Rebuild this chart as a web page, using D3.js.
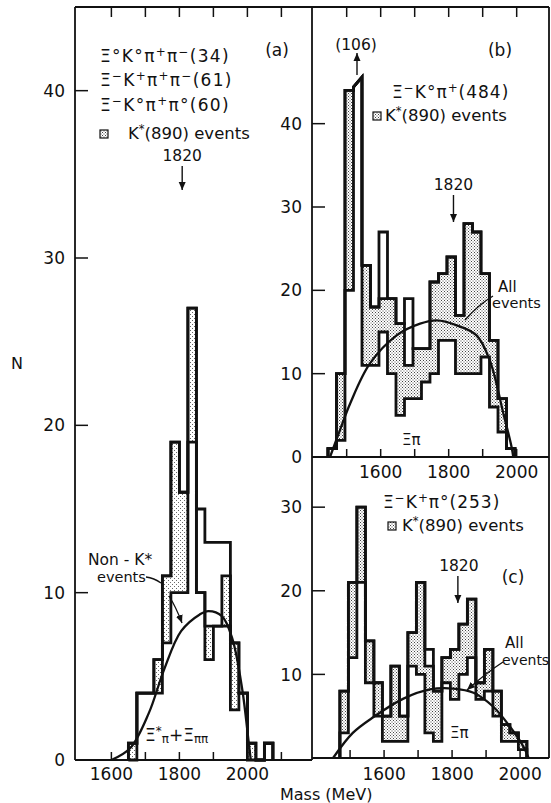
<!DOCTYPE html>
<html>
<head>
<meta charset="utf-8">
<script src="https://cdn.jsdelivr.net/npm/d3@7"></script>
<style>
  body { margin: 0; background: #fff; }
  text { font-family: "DejaVu Sans", sans-serif; fill: #111; }
</style>
</head>
<body>
<div id="chart"></div>
<script>
const width = 551, height = 803

// all histograms use 25 MeV bins
const binW = 25

// (a) Xi K pi pi, first bin starts at 1650 MeV
// nonK = inner outline, kStar = dotted K*(890) part stacked on it, all = outer outline
const aStart = 1650
const aAll   = [1, 4, 4, 6, 11, 19, 16, 27, 15, 13, 13, 13, 7, 4, 1, 0, 1]
const aNonK  = [0, 4, 4, 4, 7, 10, 10, 19, 10, 6, 8, 8, 3, 4, 0, 0, 1]
const aKStar = [1, 0, 0, 2, 4, 9, 6, 8, 0, 2, 0, 3, 4, 0, 1, 0, 0]

// (b) Xi- K0 pi+
const bStart = 1445
const bAll   = [1, 10, 44, 106, 23, 18, 27, 19, 16, 19, 13, 13, 21, 22, 24, 17, 28, 27, 22, 14, 7, 1]
const bNonK  = [1, 2, 20, 106, 11, 11, 15, 10, 5, 7, 7, 9, 10, 14, 14, 10, 10, 10, 12, 6, 3, 1]
const bKStar = [0, 8, 24, 0, 12, 7, 4, 9, 11, 4, 6, 4, 11, 8, 10, 7, 18, 17, 10, 8, 4, 0]

// (c) Xi- K+ pi0
const cStart = 1470
const cAll   = [8, 21, 30, 14, 9, 5, 11, 5, 15, 21, 13, 8, 12, 13, 16, 19, 9, 13, 8, 4, 3, 2]
const cNonK  = [3, 12, 21, 9, 5, 2, 2, 2, 11, 10, 3, 2, 9, 7, 10, 12, 7, 8, 5, 2, 2, 1]
const cKStar = [5, 9, 9, 5, 4, 3, 9, 3, 4, 11, 8, 6, 3, 6, 6, 7, 2, 5, 3, 2, 1, 1]

// phase space curves (mass, N)
const aCurve = [[1600, 0], [1655, 0.7], [1710, 2.8], [1755, 5.4], [1805, 7.7], [1860, 8.7], [1885, 8.9],
                [1925, 8.6], [1955, 7.3], [1985, 4.2], [2003, 1.2], [2010, 0]]
const bCurve = [[1451, 0], [1480, 3.2], [1510, 6.4], [1568, 11.2], [1647, 14.6], [1716, 16.0], [1765, 16.4],
                [1824, 15.8], [1882, 14.6], [1921, 11.6], [1961, 5.2], [1985, 1.2], [1990, 0]]
const cCurve = [[1450, 0], [1508, 3.0], [1569, 4.9], [1657, 7.1], [1735, 8.2], [1804, 8.3], [1863, 7.8],
                [1922, 6.1], [1971, 3.7], [2010, 1.35], [2025, 0]]

const yTicksA = [0, 10, 20, 30, 40]
const yTicksB = [0, 10, 20, 30, 40]
const yTicksC = [10, 20, 30]
const massTicksA = [1600, 1700, 1800, 1900, 2000, 2100]
const massTicksBC = [1500, 1600, 1700, 1800, 1900, 2000]
const massLabels = [1600, 1800, 2000]
const resonance = 1820
const bOverflow = 106
const bCap = 45

const xA = d3.scaleLinear([1493, 2190], [75, 312])
const yA = d3.scaleLinear([0, 45], [760, 7])
const xB = d3.scaleLinear([1398, 2098], [312, 550])
const yB = d3.scaleLinear([0, 54], [457, 7])
const xC = d3.scaleLinear([1388, 2088], [312, 550])
const yC = d3.scaleLinear([0, 36], [758, 457])

const svg = d3.select("#chart").append("svg")
    .attr("width", width)
    .attr("height", height)
    .attr("viewBox", [0, 0, width, height])

const defs = svg.append("defs")
function dots(id, size, dark) {
  const p = defs.append("pattern")
      .attr("id", id)
      .attr("width", size).attr("height", size)
      .attr("patternUnits", "userSpaceOnUse")
  p.append("rect").attr("width", size).attr("height", size).attr("fill", "#fff")
  p.append("rect").attr("width", 1).attr("height", 1).attr("fill", dark)
  p.append("rect").attr("x", size / 2).attr("y", size / 2).attr("width", 1).attr("height", 1).attr("fill", dark)
}
dots("dots", 3, "#444")
dots("dotsLight", 4, "#666")

defs.append("marker")
    .attr("id", "head")
    .attr("viewBox", "0 -4 8 8")
    .attr("refX", 8).attr("refY", 0)
    .attr("markerWidth", 8).attr("markerHeight", 8)
    .attr("markerUnits", "userSpaceOnUse")
    .attr("orient", "auto")
  .append("path")
    .attr("d", "M0,-3.5L8,0L0,3.5Z")
    .attr("fill", "#111")

svg.append("rect").attr("width", width).attr("height", height).attr("fill", "#fff")

// step outline of a histogram; bins above cap get a slanted broken top
function stepPath(x, y, start, vals, cap) {
  const p = d3.path()
  p.moveTo(x(start), y(0))
  vals.forEach((v, i) => {
    const x0 = x(start + i * binW), x1 = x(start + (i + 1) * binW)
    if (cap != null && v > cap) {
      p.lineTo(x0, y(cap - 0.6)); p.lineTo(x1, y(cap + 0.6))
    } else {
      p.lineTo(x0, y(v)); p.lineTo(x1, y(v))
    }
  })
  p.lineTo(x(start + vals.length * binW), y(0))
  return p.toString()
}

function histogram(x, y, start, all, nonK, kStar, fill, cap) {
  const g = svg.append("g")
  const lim = v => cap != null ? Math.min(v, cap) : v
  const top = nonK.map((v, i) => v + kStar[i])
  g.selectAll("rect")
    .data(kStar.map((k, i) => ({ i, lo: lim(nonK[i]), hi: lim(top[i]) })).filter(d => d.hi > d.lo))
    .join("rect")
      .attr("x", d => x(start + d.i * binW))
      .attr("width", d => x(start + (d.i + 1) * binW) - x(start + d.i * binW))
      .attr("y", d => y(d.hi))
      .attr("height", d => y(d.lo) - y(d.hi))
      .attr("fill", fill)
  ;[nonK, top, all].forEach(vals => {
    g.append("path")
        .attr("d", stepPath(x, y, start, vals, cap))
        .attr("fill", "none").attr("stroke", "#111").attr("stroke-width", 2.8)
  })
}

function curve(x, y, pts) {
  svg.append("path")
      .attr("d", d3.line().x(d => x(d[0])).y(d => y(d[1])).curve(d3.curveCatmullRom.alpha(0.5))(pts))
      .attr("fill", "none").attr("stroke", "#111").attr("stroke-width", 2.3)
}

histogram(xA, yA, aStart, aAll, aNonK, aKStar, "url(#dotsLight)")
histogram(xB, yB, bStart, bAll, bNonK, bKStar, "url(#dots)", bCap)
histogram(xC, yC, cStart, cAll, cNonK, cKStar, "url(#dots)")
curve(xA, yA, aCurve)
curve(xB, yB, bCurve)
curve(xC, yC, cCurve)

// frame
const frame = svg.append("g").attr("stroke", "#111").attr("stroke-width", 1.8)
frame.append("line").attr("x1", 75).attr("x2", 549).attr("y1", 7).attr("y2", 7)
frame.append("line").attr("x1", 75).attr("x2", 75).attr("y1", 7).attr("y2", 760)
frame.append("line").attr("x1", 312).attr("x2", 312).attr("y1", 7).attr("y2", 760)
frame.append("line").attr("x1", 549).attr("x2", 549).attr("y1", 7).attr("y2", 758)
frame.append("line").attr("x1", 75).attr("x2", 312).attr("y1", 760).attr("y2", 760)
frame.append("line").attr("x1", 312).attr("x2", 549).attr("y1", 457).attr("y2", 457)
frame.append("line").attr("x1", 312).attr("x2", 549).attr("y1", 758).attr("y2", 758)

// ticks
const ticks = svg.append("g").attr("stroke", "#111").attr("stroke-width", 1.5)
function yTicks(y, vals, x0) {
  ticks.append("g").selectAll("line").data(vals.filter(v => v > 0)).join("line")
    .attr("x1", x0).attr("x2", x0 + 13).attr("y1", d => y(d)).attr("y2", d => y(d))
}
function xTicks(x, vals, yBase, len) {
  ticks.append("g").selectAll("line").data(vals).join("line")
    .attr("x1", d => x(d)).attr("x2", d => x(d)).attr("y1", yBase).attr("y2", yBase + len)
}
yTicks(yA, yTicksA, 75)
yTicks(yB, yTicksB, 312)
yTicks(yC, yTicksC, 312)
xTicks(xA, massTicksA, 760, -8)
xTicks(xA, massTicksA, 7, 10)
xTicks(xB, massTicksBC, 457, -8)
xTicks(xB, massTicksBC, 7, 10)
xTicks(xC, massTicksBC, 758, -8)

// tick labels
const lab = svg.append("g").attr("font-size", 17)
lab.append("g").selectAll("text").data(yTicksA).join("text")
  .attr("x", 65).attr("y", d => yA(d)).attr("dy", "0.36em").attr("text-anchor", "end").text(d => d)
lab.append("g").selectAll("text").data(yTicksB).join("text")
  .attr("x", 302).attr("y", d => yB(d)).attr("dy", "0.36em").attr("text-anchor", "end").text(d => d)
lab.append("g").selectAll("text").data(yTicksC).join("text")
  .attr("x", 302).attr("y", d => yC(d)).attr("dy", "0.36em").attr("text-anchor", "end").text(d => d)
lab.append("g").selectAll("text").data(massLabels).join("text")
  .attr("x", d => xA(d)).attr("y", 780).attr("text-anchor", "middle").text(d => d)
lab.append("g").selectAll("text").data(massLabels).join("text")
  .attr("x", d => xB(d)).attr("y", 478).attr("text-anchor", "middle").text(d => d)
lab.append("g").selectAll("text").data(massLabels).join("text")
  .attr("x", d => xC(d)).attr("y", 780).attr("text-anchor", "middle").text(d => d)

svg.append("text").attr("x", 17).attr("y", 369).attr("font-size", 16).attr("text-anchor", "middle").text("N")
svg.append("text").attr("x", 280).attr("y", 800).attr("font-size", 16).text("Mass (MeV)")

// text with superscripts: parts = [[string, kind]]
function rich(x, y, parts, size, spacing) {
  const t = svg.append("text").attr("x", x).attr("y", y)
      .attr("font-size", size || 16).attr("letter-spacing", spacing || 0)
  let shift = 0
  parts.forEach(([s, k]) => {
    const target = k === "sup" ? -6 : k === "sub" ? 2 : 0
    const ts = t.append("tspan").text(s).attr("dy", target - shift)
    if (k) ts.attr("font-size", (size || 16) * 0.7)
    shift = target
  })
  return t
}
function kStarLine(xBox, yBase, xText) {
  svg.append("rect").attr("x", xBox).attr("y", yBase - 9).attr("width", 8).attr("height", 8)
    .attr("fill", "url(#dots)").attr("stroke", "#111").attr("stroke-width", 1.2)
  rich(xText, yBase, [["K", ""], ["*", "sup"], ["(890) events", ""]], 16.5)
}
function arrow(x1, y1, x2, y2) {
  svg.append("line").attr("x1", x1).attr("y1", y1).attr("x2", x2).attr("y2", y2)
    .attr("stroke", "#111").attr("stroke-width", 1.4).attr("marker-end", "url(#head)")
}
function leader(d, head) {
  const p = svg.append("path").attr("d", d).attr("fill", "none").attr("stroke", "#111").attr("stroke-width", 1.3)
  if (head) p.attr("marker-end", "url(#head)")
}

// panel (a) legend and notes
rich(100, 62, [["Ξ", ""], ["°", ""], ["K", ""], ["°", ""], ["π", ""], ["+", "sup"], ["π", ""], ["−", "sup"], ["(34)", ""]], 17, 1.3)
rich(100, 86, [["Ξ", ""], ["−", "sup"], ["K", ""], ["+", "sup"], ["π", ""], ["+", "sup"], ["π", ""], ["−", "sup"], ["(61)", ""]], 17, 1.3)
rich(100, 111, [["Ξ", ""], ["−", "sup"], ["K", ""], ["°", ""], ["π", ""], ["+", "sup"], ["π", ""], ["°", ""], ["(60)", ""]], 17, 1.3)
kStarLine(100, 139, 128)
svg.append("text").attr("x", 277).attr("y", 56).attr("font-size", 17).attr("text-anchor", "middle").text("(a)")
svg.append("text").attr("x", xA(resonance) - 4).attr("y", 161).attr("font-size", 15.5).attr("text-anchor", "middle").text(resonance)
arrow(xA(resonance) - 4, 166, xA(resonance) - 4, 190)
svg.append("text").attr("x", 88).attr("y", 565).attr("font-size", 15.5).text("Non - K*")
svg.append("text").attr("x", 97).attr("y", 582).attr("font-size", 14.5).text("events")
leader("M146,577 Q154,578 161,583")
leader("M169,596 Q176,607 182,623", true)
rich(145, 741, [["Ξ", ""], ["*", "sup"], ["π", "sub"], ["+", ""], ["Ξ", ""], ["ππ", "sub"]], 17)

// panel (b)
svg.append("text").attr("x", 356).attr("y", 50).attr("font-size", 15.5).attr("text-anchor", "middle").text(`(${bOverflow})`)
arrow(357, 75, 357, 53)
svg.append("text").attr("x", 500).attr("y", 56).attr("font-size", 17).attr("text-anchor", "middle").text("(b)")
rich(392, 98, [["Ξ", ""], ["−", "sup"], ["K", ""], ["°", ""], ["π", ""], ["+", "sup"], ["(484)", ""]], 17, 1)
kStarLine(373, 121, 385)
svg.append("text").attr("x", xB(resonance) - 2).attr("y", 190).attr("font-size", 15.5).attr("text-anchor", "middle").text(resonance)
arrow(xB(resonance) - 2, 195, xB(resonance) - 2, 222)
svg.append("text").attr("x", 498).attr("y", 292).attr("font-size", 15).text("All")
svg.append("text").attr("x", 492).attr("y", 308).attr("font-size", 14.5).text("events")
leader("M493,296 Q478,305 465,320")
rich(402, 445, [["Ξ", ""], ["π", ""]], 15)

// panel (c)
rich(383, 508, [["Ξ", ""], ["−", "sup"], ["K", ""], ["+", "sup"], ["π", ""], ["°", ""], ["(253)", ""]], 17, 1)
kStarLine(388, 531, 402)
svg.append("text").attr("x", xC(resonance)).attr("y", 571).attr("font-size", 15.5).attr("text-anchor", "middle").text(resonance)
arrow(xC(resonance) - 1, 576, xC(resonance) - 1, 603)
svg.append("text").attr("x", 513).attr("y", 583).attr("font-size", 17).attr("text-anchor", "middle").text("(c)")
svg.append("text").attr("x", 505).attr("y", 648).attr("font-size", 15).text("All")
svg.append("text").attr("x", 502).attr("y", 665).attr("font-size", 14).text("events")
leader("M503,662 Q486,673 467,690", true)
rich(450, 738, [["Ξ", ""], ["π", ""]], 15)
</script>
</body>
</html>
